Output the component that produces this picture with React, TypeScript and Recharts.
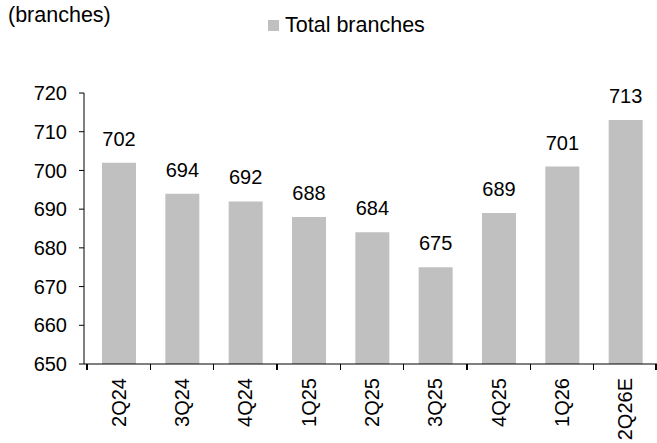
import React from "react";
import { BarChart, Bar, XAxis, YAxis, LabelList } from "recharts";

// Values
const quarters = ["2Q24", "3Q24", "4Q24", "1Q25", "2Q25", "3Q25", "4Q25", "1Q26", "2Q26E"];
const totalBranches = [702, 694, 692, 688, 684, 675, 689, 701, 713];
const yTicks = [650, 660, 670, 680, 690, 700, 710, 720];

const data = quarters.map((q, i) => ({ name: q, total: totalBranches[i] }));

const FONT = "'Liberation Sans', Arial, sans-serif";

// category label plus the boundary tick marks Excel draws between categories
const QuarterTick = (props: any) => {
  const { x, y, payload, index, visibleTicksCount } = props;
  const half = payload && payload.offset ? payload.offset : 31.7;
  const isLast = index === visibleTicksCount - 1;
  return (
    <g>
      <line x1={x - half} x2={x - half} y1={y} y2={y + 6} stroke="#000" strokeWidth={1.2} shapeRendering="crispEdges" />
      {isLast && (
        <line x1={x + half - 1} x2={x + half - 1} y1={y} y2={y + 6} stroke="#000" strokeWidth={1.2} shapeRendering="crispEdges" />
      )}
      <text
        x={x}
        y={y + 14}
        transform={`rotate(-90, ${x}, ${y + 14})`}
        textAnchor="end"
        dominantBaseline="central"
        fontSize={20}
        fontFamily={FONT}
        fill="#000"
      >
        {payload.value}
      </text>
    </g>
  );
};

export default function App() {
  return (
    <div style={{ position: "absolute", left: 0, top: 0, width: 657, height: 443, background: "#fff", fontFamily: FONT }}>
      <div style={{ position: "absolute", left: 8, top: 3, fontSize: 21.5, color: "#000" }}>(branches)</div>
      <div style={{ position: "absolute", left: 268, top: 13, fontSize: 21.5, color: "#000", display: "flex", alignItems: "center" }}>
        <span style={{ display: "inline-block", width: 11, height: 11, background: "#C0C0C0", marginRight: 6 }} />
        <span>Total branches</span>
      </div>
      <BarChart
        width={657}
        height={443}
        data={data}
        margin={{ top: 93, right: 0, left: 0, bottom: 0 }}
      >
        <XAxis
          dataKey="name"
          height={79}
          axisLine={{ stroke: "#000" }}
          tickLine={false}
          tickSize={0}
          tickMargin={0}
          interval={0}
          padding={{ left: 3, right: 0 }}
          tick={<QuarterTick />}
        />
        <YAxis
          width={84}
          domain={[650, 720]}
          ticks={yTicks}
          allowDataOverflow
          axisLine={{ stroke: "#000" }}
          tickLine={{ stroke: "#000" }}
          tickSize={5}
          tickMargin={12}
          tick={{ fill: "#000", fontSize: 20, fontFamily: FONT }}
        />
        <Bar dataKey="total" fill="#C0C0C0" barSize={34} isAnimationActive={false}>
          <LabelList
            dataKey="total"
            position="top"
            offset={17}
            fill="#000"
            fontSize={20}
            fontFamily={FONT}
          />
        </Bar>
      </BarChart>
    </div>
  );
}
